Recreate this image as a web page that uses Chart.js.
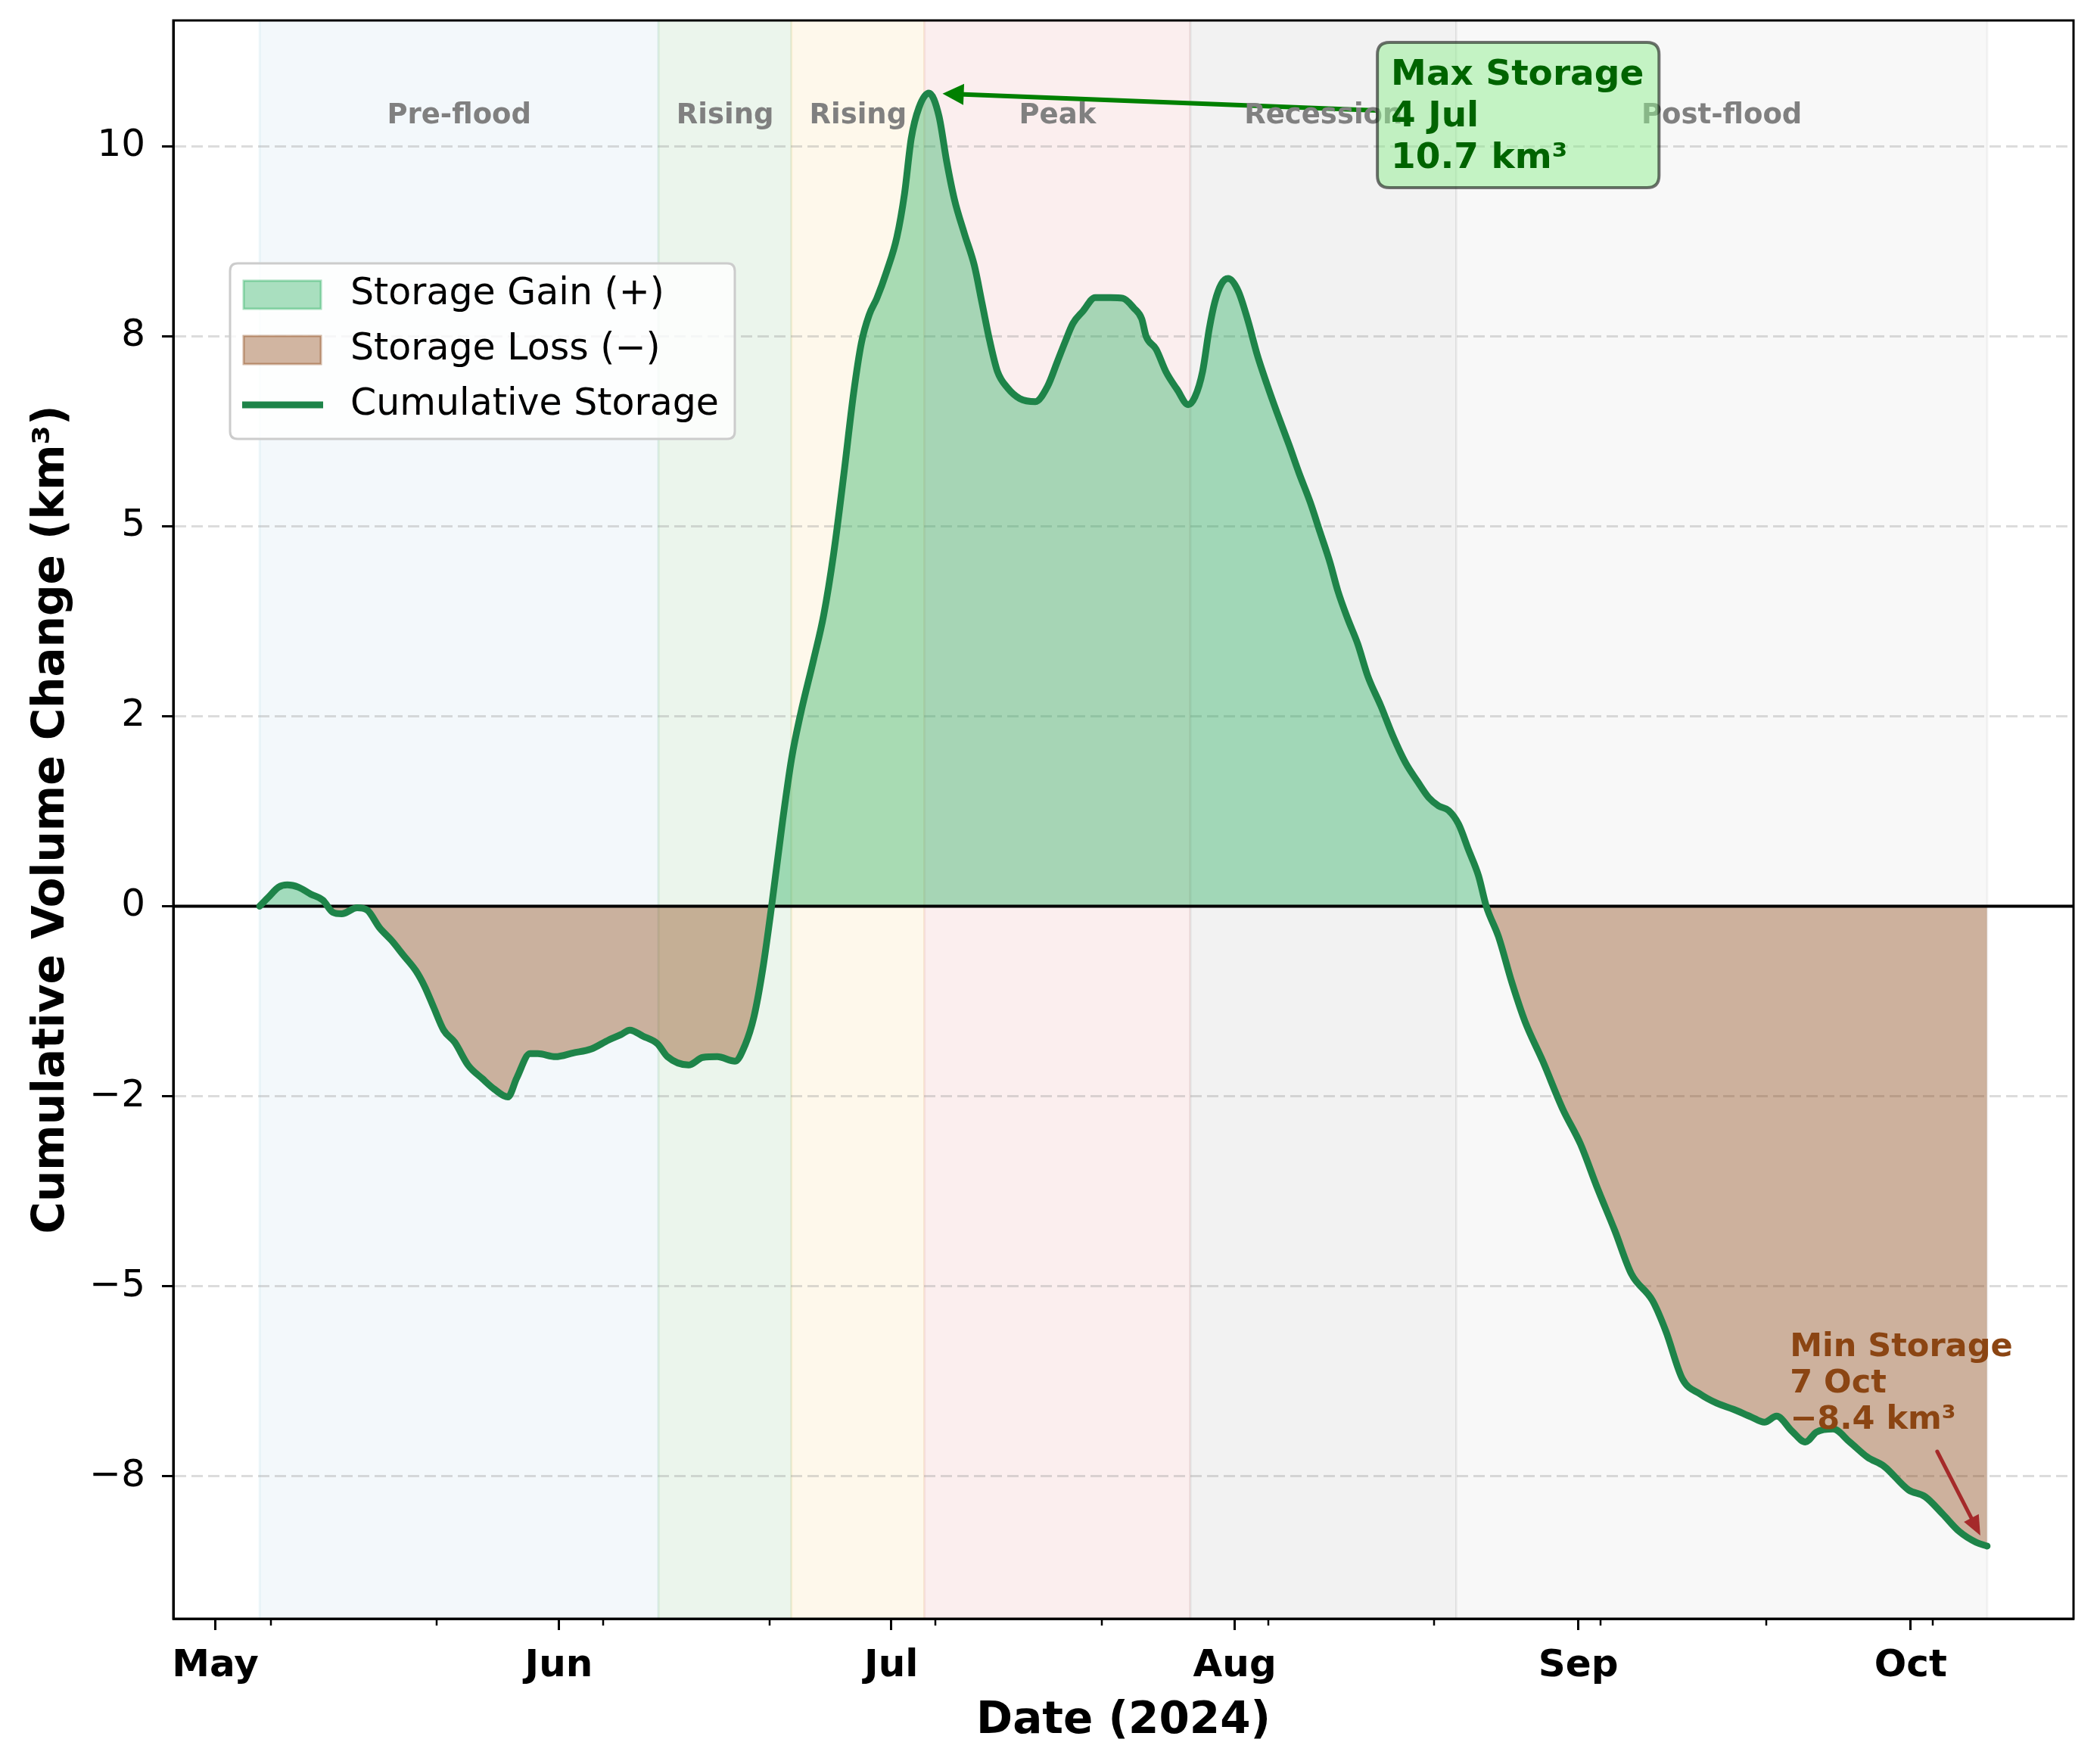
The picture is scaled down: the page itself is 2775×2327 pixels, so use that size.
<!DOCTYPE html>
<html lang="en">
<head>
  <meta charset="UTF-8">
  <title>Cumulative Storage 2024</title>
  <script src="https://cdn.jsdelivr.net/npm/chart.js"></script>
  <style>
    html, body { margin: 0; padding: 0; background: #ffffff; }
    #viz { display: block; }
  </style>
</head>
<body>
  <canvas id="viz" width="2775" height="2327"></canvas>

  <script>
    // days counted from 1 May 2024 (day 0 = 1 May)
    const days = [4, 4.8, 5.7, 6.5, 7.5, 8.6, 9.7, 10.6, 11.4, 12.8,
      13.7, 14.8, 15.9, 17.0, 18.1, 18.9, 19.7, 20.6, 21.6, 22.8,
      24.1, 25.2, 26.4, 27.2, 28.4, 29.1, 30.7, 32.3, 33.9, 35.5,
      36.6, 37.4, 38.6, 39.9, 40.8, 42.7, 44.0, 45.3, 46.9, 47.8,
      48.6, 49.4, 50.2, 51.2, 52.0, 52.8, 54.0, 54.9, 55.8, 56.7,
      57.6, 58.3, 59.0, 59.7, 60.6, 61.5, 62.2, 62.8, 63.5, 64.4,
      65.3, 66.0, 66.7, 67.6, 68.5, 69.2, 69.9, 70.6, 71.5, 72.6,
      74.0, 75.1, 76.0, 76.7, 77.4, 78.3, 79.4, 80.8, 81.9, 82.9,
      83.6, 84.0, 84.9, 85.8, 86.8, 87.8, 88.4, 89.1, 89.7, 90.2,
      90.8, 91.4, 92.3, 93.2, 94.0, 94.9, 95.8, 96.9, 97.8, 98.8,
      99.7, 100.6, 101.3, 102.2, 103.1, 104.0, 105.2, 106.3, 107.4, 108.5,
      109.5, 110.4, 111.3, 112.2, 113.1, 114.0, 114.7, 115.8, 117.0, 118.2,
      119.8, 121.6, 123.2, 124.7, 126.3, 127.8, 129.7, 130.9, 132.4, 134.0,
      135.5, 137.0, 138.6, 139.8, 140.9, 142.3, 143.5, 144.5, 146.0, 147.5,
      149.1, 150.6, 152.8, 154.3, 155.9, 157.4, 158.9, 159.9]

    // cumulative volume change, km3
    const storage = [0, 0.12, 0.25, 0.28, 0.25, 0.16, 0.08, -0.08, -0.10, -0.02,
      -0.05, -0.28, -0.45, -0.65, -0.85, -1.06, -1.33, -1.63, -1.79, -2.09,
      -2.27, -2.41, -2.51, -2.26, -1.94, -1.94, -1.98, -1.93, -1.88, -1.76,
      -1.69, -1.63, -1.71, -1.81, -1.98, -2.09, -1.99, -1.98, -2.04, -1.83,
      -1.46, -0.83, 0.0, 1.13, 1.94, 2.52, 3.25, 3.83, 4.64, 5.66,
      6.75, 7.41, 7.78, 8.0, 8.36, 8.80, 9.38, 10.1, 10.51, 10.70,
      10.4, 9.8, 9.3, 8.85, 8.43, 7.93, 7.43, 7.03, 6.82, 6.68,
      6.64, 6.84, 7.17, 7.43, 7.67, 7.83, 8.01, 8.01, 8.0, 7.87,
      7.73, 7.50, 7.33, 7.03, 6.80, 6.60, 6.70, 7.04, 7.6, 7.95,
      8.19, 8.26, 8.1, 7.7, 7.27, 6.87, 6.50, 6.07, 5.70, 5.32,
      4.92, 4.52, 4.15, 3.78, 3.45, 3.03, 2.63, 2.23, 1.89, 1.64,
      1.43, 1.32, 1.26, 1.08, 0.74, 0.40, 0.0, -0.4, -1.0, -1.52,
      -2.04, -2.67, -3.13, -3.70, -4.27, -4.84, -5.19, -5.59, -6.22, -6.42,
      -6.54, -6.62, -6.72, -6.79, -6.71, -6.91, -7.05, -6.92, -6.88, -7.05,
      -7.25, -7.37, -7.68, -7.77, -8.0, -8.23, -8.37, -8.42]

    const monthTicks = [0, 31, 61, 92, 123, 153]
    const monthLabels = ['May', 'Jun', 'Jul', 'Aug', 'Sep', 'Oct']
    const minorTicks = [5, 20, 35, 50, 65, 80, 95, 110, 125, 140, 155]

    const yTicks = [-7.5, -5, -2.5, 0, 2.5, 5, 7.5, 10]
    const yTickLabels = ['\u22128', '\u22125', '\u22122', '0', '2', '5', '8', '10']

    const phaseNames = ['Pre-flood', 'Rising', 'Rising', 'Peak', 'Recession', 'Post-flood']
    const phaseStart = [4, 40, 52, 64, 88, 112]
    const phaseEnd = [40, 52, 64, 88, 112, 159.9]

    const maxNote = ['Max Storage', '4 Jul', '10.7 km\u00b3']
    const minNote = ['Min Storage', '7 Oct', '\u22128.4 km\u00b3']

    // styles
    const phaseFill = ['#f3f8fb', '#ebf5ec', '#fef8eb', '#fbeeee', '#f2f2f2', '#f8f8f8']
    const phaseEdge = ['rgba(173,216,230,0.2)', 'rgba(144,200,150,0.2)', 'rgba(240,210,130,0.2)',
      'rgba(230,160,160,0.2)', 'rgba(170,170,170,0.2)', 'rgba(200,200,200,0.2)']
    const lineColor = '#1e8449'
    const gainFill = 'rgba(39,174,96,0.4)'
    const lossFill = 'rgba(139,69,19,0.4)'
    const FONT = "'DejaVu Sans', sans-serif"

    Chart.defaults.font.family = FONT
    Chart.defaults.color = '#000'

    const xSpan = days[days.length - 1] - days[0]
    const xMin = days[0] - 0.05 * xSpan
    const xMax = days[days.length - 1] + 0.05 * xSpan
    const yLo = Math.min(...storage)
    const yHi = Math.max(...storage)
    const yMin = yLo - 0.05 * (yHi - yLo)
    const yMax = yHi + 0.05 * (yHi - yLo)

    const points = days.map((d, i) => ({ x: d, y: storage[i] }))

    function roundRect(ctx, x, y, w, h, r) {
      ctx.beginPath()
      ctx.moveTo(x + r, y)
      ctx.lineTo(x + w - r, y)
      ctx.quadraticCurveTo(x + w, y, x + w, y + r)
      ctx.lineTo(x + w, y + h - r)
      ctx.quadraticCurveTo(x + w, y + h, x + w - r, y + h)
      ctx.lineTo(x + r, y + h)
      ctx.quadraticCurveTo(x, y + h, x, y + h - r)
      ctx.lineTo(x, y + r)
      ctx.quadraticCurveTo(x, y, x + r, y)
      ctx.closePath()
    }

    function arrow(ctx, x0, y0, x1, y1, color, width, headLen, headW) {
      const ang = Math.atan2(y1 - y0, x1 - x0)
      const bx = x1 - headLen * Math.cos(ang)
      const by = y1 - headLen * Math.sin(ang)
      ctx.strokeStyle = color
      ctx.fillStyle = color
      ctx.lineWidth = width
      ctx.lineCap = 'round'
      ctx.beginPath()
      ctx.moveTo(x0, y0)
      ctx.lineTo(bx, by)
      ctx.stroke()
      ctx.beginPath()
      ctx.moveTo(x1, y1)
      ctx.lineTo(bx + headW / 2 * Math.sin(ang), by - headW / 2 * Math.cos(ang))
      ctx.lineTo(bx - headW / 2 * Math.sin(ang), by + headW / 2 * Math.cos(ang))
      ctx.closePath()
      ctx.fill()
    }

    const decor = {
      id: 'decor',
      beforeDraw(chart) {
        const { ctx, chartArea: a, scales: { x } } = chart
        ctx.save()
        ctx.fillStyle = '#ffffff'
        ctx.fillRect(0, 0, chart.width, chart.height)
        // phase bands
        phaseStart.forEach((s, i) => {
          const x0 = x.getPixelForValue(s)
          const x1 = x.getPixelForValue(phaseEnd[i])
          ctx.fillStyle = phaseFill[i]
          ctx.fillRect(x0, a.top, x1 - x0, a.bottom - a.top)
          ctx.strokeStyle = phaseEdge[i]
          ctx.lineWidth = 3
          ctx.beginPath()
          ctx.moveTo(x0, a.top); ctx.lineTo(x0, a.bottom)
          ctx.moveTo(x1, a.top); ctx.lineTo(x1, a.bottom)
          ctx.stroke()
        })
        ctx.restore()
      },
      afterDraw(chart) {
        const { ctx, chartArea: a, scales: { x, y } } = chart
        ctx.save()

        // full frame
        ctx.strokeStyle = '#000'
        ctx.lineWidth = 3
        ctx.strokeRect(a.left, a.top, a.right - a.left, a.bottom - a.top)

        // minor ticks on the date axis
        ctx.lineWidth = 2.5
        ctx.beginPath()
        minorTicks.forEach(v => {
          const px = Math.round(x.getPixelForValue(v))
          ctx.moveTo(px, a.bottom)
          ctx.lineTo(px, a.bottom + 9)
        })
        ctx.stroke()

        // max annotation arrow
        const iMax = storage.indexOf(yHi)
        const pkx = x.getPixelForValue(days[iMax])
        const pky = y.getPixelForValue(yHi)
        ctx.font = 'bold 47px ' + FONT
        const tx = x.getPixelForValue(106.1)
        const b1 = y.getPixelForValue(10.81)
        const w = Math.max(...maxNote.map(t => ctx.measureText(t).width))
        const box = { l: tx - 18, r: tx + w + 20, t: b1 - 56, b: b1 + 136 }
        const tailX = box.l, tailY = (box.t + box.b) / 2 - 6
        const ang = Math.atan2(pky - tailY, pkx - tailX)
        arrow(ctx, tailX, tailY, pkx - 18 * Math.cos(ang), pky - 18 * Math.sin(ang), '#008000', 6, 28, 28)

        // min annotation arrow
        const iMin = storage.indexOf(yLo)
        const mnx = x.getPixelForValue(days[iMin])
        const mny = y.getPixelForValue(yLo)
        arrow(ctx, mnx - 66, mny - 125, mnx - 9, mny - 14, '#a52a2a', 5, 26, 22)

        // phase labels
        ctx.font = 'bold 37px ' + FONT
        ctx.fillStyle = '#808080'
        ctx.textAlign = 'center'
        ctx.textBaseline = 'middle'
        phaseNames.forEach((name, i) => {
          const cx = x.getPixelForValue((phaseStart[i] + phaseEnd[i]) / 2)
          ctx.fillText(name, cx, y.getPixelForValue(10.4))
        })

        // max annotation box and text
        roundRect(ctx, box.l, box.t, box.r - box.l, box.b - box.t, 16)
        ctx.fillStyle = 'rgba(144,238,144,0.5)'
        ctx.fill()
        ctx.strokeStyle = 'rgba(0,0,0,0.55)'
        ctx.lineWidth = 4
        ctx.stroke()
        ctx.font = 'bold 47px ' + FONT
        ctx.fillStyle = '#006400'
        ctx.textAlign = 'left'
        ctx.textBaseline = 'alphabetic'
        maxNote.forEach((t, i) => ctx.fillText(t, tx, b1 + i * 55))

        // min annotation text
        ctx.font = 'bold 43px ' + FONT
        ctx.fillStyle = '#8b4513'
        const mtx = x.getPixelForValue(142.1)
        const mb1 = y.getPixelForValue(-5.925)
        minNote.forEach((t, i) => ctx.fillText(t, mtx, mb1 + i * 48))

        // legend
        const lx = a.left + 75, ly = a.top + 321
        roundRect(ctx, lx, ly, 667, 232, 10)
        ctx.fillStyle = 'rgba(255,255,255,0.8)'
        ctx.fill()
        ctx.strokeStyle = '#cccccc'
        ctx.lineWidth = 3
        ctx.stroke()
        const rows = [ly + 41, ly + 114, ly + 187]
        ctx.lineWidth = 3
        ;[gainFill, lossFill].forEach((c, i) => {
          ctx.fillStyle = '#ffffff'
          ctx.fillRect(lx + 18, rows[i] - 18, 102, 37)
          ctx.fillStyle = c
          ctx.fillRect(lx + 18, rows[i] - 18, 102, 37)
          ctx.strokeStyle = c
          ctx.strokeRect(lx + 18, rows[i] - 18, 102, 37)
        })
        ctx.strokeStyle = lineColor
        ctx.lineWidth = 9
        ctx.lineCap = 'butt'
        ctx.beginPath()
        ctx.moveTo(lx + 16, rows[2])
        ctx.lineTo(lx + 123, rows[2])
        ctx.stroke()
        ctx.font = '49px ' + FONT
        ctx.fillStyle = '#000'
        ctx.textBaseline = 'middle'
        ;['Storage Gain (+)', 'Storage Loss (\u2212)', 'Cumulative Storage'].forEach((t, i) => {
          ctx.fillText(t, lx + 159, rows[i])
        })

        ctx.restore()
      }
    }

    const zeroPadding = (scale) => {
      scale.paddingTop = 0
      scale.paddingBottom = 0
      scale.paddingLeft = 0
      scale.paddingRight = 0
    }

    new Chart(document.getElementById('viz'), {
      type: 'line',
      data: {
        datasets: [{
          label: 'Cumulative Storage',
          data: points,
          borderColor: lineColor,
          borderWidth: 9,
          borderJoinStyle: 'round',
          borderCapStyle: 'round',
          pointRadius: 0,
          fill: false,
          cubicInterpolationMode: 'monotone',
          order: 0
        }, {
          label: 'zero',
          data: [{ x: xMin, y: 0 }, { x: xMax, y: 0 }],
          borderColor: '#000',
          borderWidth: 4,
          pointRadius: 0,
          fill: false,
          order: 1
        }, {
          label: 'area',
          data: points,
          borderColor: 'rgba(0,0,0,0)',
          borderWidth: 1,
          pointRadius: 0,
          cubicInterpolationMode: 'monotone',
          fill: { target: { value: 0 }, above: gainFill, below: lossFill },
          order: 2
        }]
      },
      options: {
        responsive: false,
        devicePixelRatio: 1,
        animation: false,
        layout: { padding: { top: 27, right: 35, left: 0, bottom: 0 } },
        plugins: {
          legend: { display: false },
          tooltip: { enabled: false }
        },
        scales: {
          x: {
            type: 'linear',
            min: xMin,
            max: xMax,
            afterBuildTicks: (scale) => { scale.ticks = monthTicks.map(v => ({ value: v })) },
            afterFit: (scale) => { scale.height = 188; zeroPadding(scale) },
            ticks: {
              autoSkip: false,
              maxRotation: 0,
              padding: 18,
              font: { size: 50, weight: 'bold' },
              callback: (value, index) => monthLabels[index]
            },
            grid: {
              drawOnChartArea: false,
              drawTicks: true,
              tickLength: 15,
              tickWidth: 3,
              tickColor: '#000'
            },
            border: { display: true, color: '#000', width: 3 },
            title: {
              display: true,
              text: 'Date (2024)',
              font: { size: 58, weight: 'bold' },
              padding: { top: 0, bottom: 17 }
            }
          },
          y: {
            type: 'linear',
            min: yMin,
            max: yMax,
            afterBuildTicks: (scale) => { scale.ticks = yTicks.map(v => ({ value: v })) },
            afterFit: (scale) => { scale.width = 229; zeroPadding(scale) },
            ticks: {
              autoSkip: false,
              padding: 22,
              font: { size: 50 },
              callback: (value, index) => yTickLabels[index]
            },
            grid: {
              color: 'rgba(150,150,150,0.33)',
              lineWidth: 3,
              drawTicks: true,
              tickLength: 15,
              tickWidth: 3,
              tickColor: '#000'
            },
            border: { display: true, color: '#000', width: 3, dash: [15, 7] },
            title: {
              display: true,
              text: 'Cumulative Volume Change (km\u00b3)',
              font: { size: 58, weight: 'bold' },
              padding: { top: 34, bottom: 0 }
            }
          }
        }
      },
      plugins: [decor]
    })
  </script>
</body>
</html>
